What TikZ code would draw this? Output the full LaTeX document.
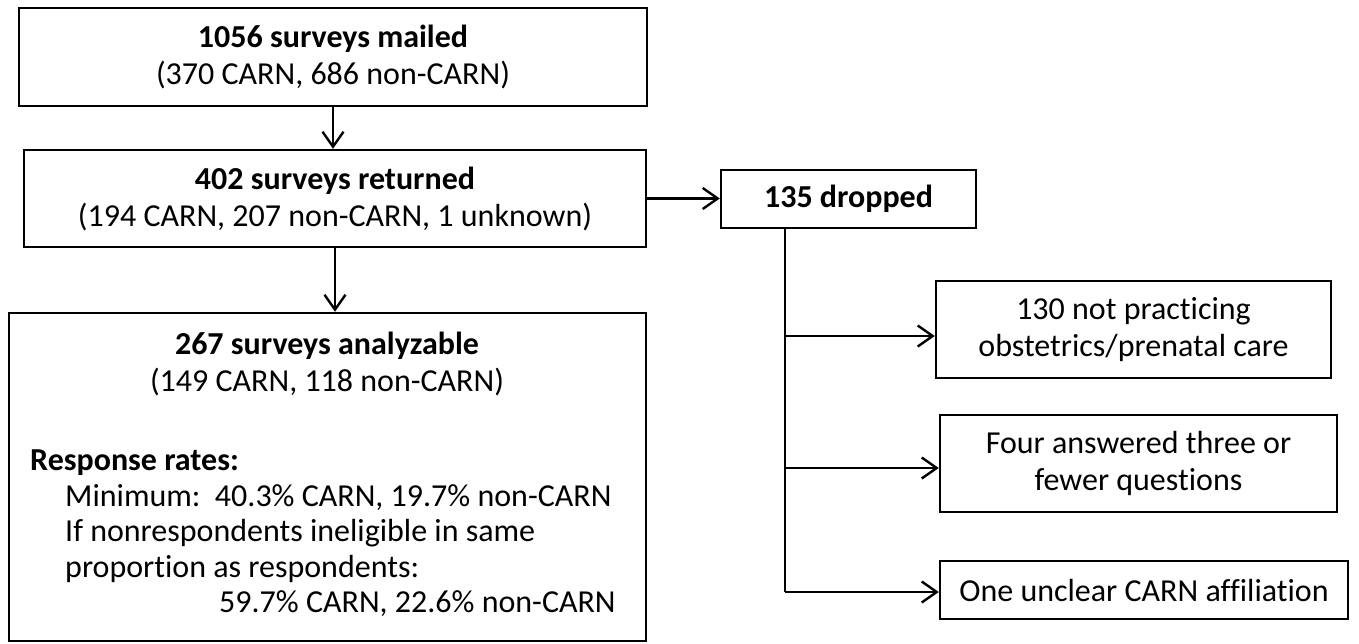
\documentclass[tikz,border=0pt]{standalone}
\usepackage{fontspec}
\setmainfont{Carlito}[Ligatures=NoCommon]
\usetikzlibrary{arrows.meta}

\begin{document}
\begin{tikzpicture}[x=1pt, y=-1pt,
    box/.style={draw, line width=2.4pt, align=center, inner sep=0pt,
        font=\fontsize{32}{37}\selectfont},
    txt/.style={inner sep=0pt, font=\fontsize{32}{37}\selectfont},
    arr/.style={line width=2.4pt, -{Straight Barb[length=15pt,width=21pt]}}]
        \useasboundingbox (0,0) rectangle (1359,643);

        % Define the main boxes
        \node[box, minimum width=628, minimum height=98] (mail) at (333,57)
            {\textbf{1056 surveys mailed}\\(370 CARN, 686 non-CARN)};
        \node[box, minimum width=622, minimum height=97] (ret) at (335,198.5)
            {\textbf{402 surveys returned}\\(194 CARN, 207 non-CARN, 1 unknown)};
        \node[box, minimum width=637, minimum height=328] (ana) at (327.5,477) {};
        \node[txt, align=center] (anahead) at (327,364)
            {\textbf{267 surveys analyzable}\\(149 CARN, 118 non-CARN)};
        \node[txt, anchor=north west, align=left,
            font=\fontsize{32}{35.5}\selectfont] (rates) at (30,450)
            {\textbf{Response rates:}\\
            \hspace*{35pt}Minimum:\ \ 40.3\% CARN, 19.7\% non-CARN\\
            \hspace*{35pt}If nonrespondents ineligible in same\\
            \hspace*{35pt}proportion as respondents:\\
            \hspace*{189pt}59.7\% CARN, 22.6\% non-CARN};

        % Define the dropped boxes
        \node[box, minimum width=255, minimum height=58] (drop) at (848.5,199)
            {\textbf{135 dropped}};
        \node[box, minimum width=395, minimum height=97] (notprac) at (1133.5,329.5)
            {130 not practicing\\obstetrics/prenatal care};
        \node[box, minimum width=397, minimum height=97] (fewq) at (1138.5,463.5)
            {Four answered three or\\fewer questions};
        \node[box, minimum width=408, minimum height=58] (unclear) at (1144,590)
            {One unclear CARN affiliation};

        \coordinate (j1) at (785,336);
        \coordinate (j2) at (785,468);
        \coordinate (j3) at (785,592);

        % Draw arrows
        \draw[arr] (mail.south) -- (mail.south |- ret.north);
        \draw[arr] (ret.south) -- (ret.south |- ana.north);
        \draw[arr] (ret.east) -- (ret.east -| drop.west);
        \draw[line width=2.4pt] (drop.south -| j3) -- (j3);
        \draw[arr] (j1) -- (j1 -| notprac.west);
        \draw[arr] (j2) -- (j2 -| fewq.west);
        \draw[arr] (j3) -- (j3 -| unclear.west);
    \end{tikzpicture}
\end{document}
